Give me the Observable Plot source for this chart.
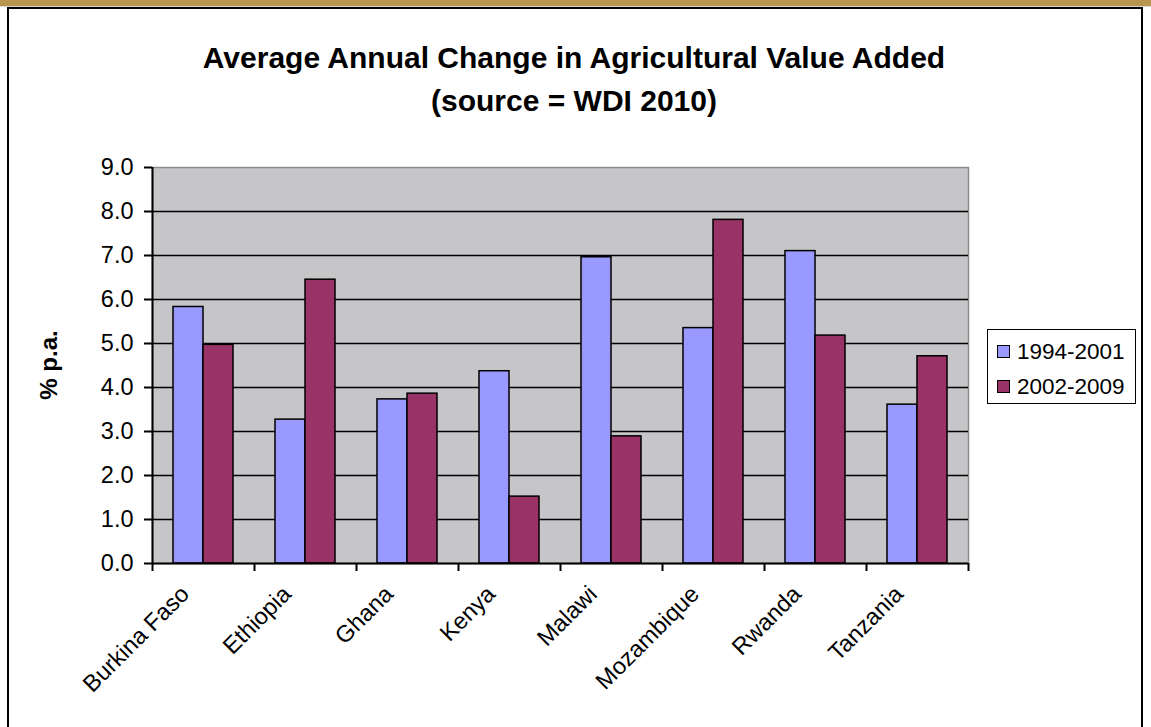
<!DOCTYPE html>
<html>
<head>
<meta charset="utf-8">
<script src="https://cdn.jsdelivr.net/npm/d3@7"></script>
<script src="https://cdn.jsdelivr.net/npm/@observablehq/plot@0.6"></script>
<style>
  html, body { margin: 0; padding: 0; background: #fff; }
  body { width: 1151px; height: 727px; position: relative; overflow: hidden; font-family: "Liberation Sans", Arial, sans-serif; }
  #goldbar { position: absolute; left: 0; top: 0; width: 1151px; height: 6px; background: #B9964F; }
  #goldline { position: absolute; left: 0; top: 6px; width: 1151px; height: 1px; background: #d8d8d8; }
  #frame { position: absolute; left: 7px; top: 7px; width: 1132px; height: 740px; border: 2px solid #000; box-sizing: content-box; }
  #title { position: absolute; left: 0; top: 36px; width: 1148px; text-align: center; font-weight: bold; font-size: 30px; line-height: 43px; color: #000; }
  #chart { position: absolute; left: 0; top: 0; }
  #ylabel { position: absolute; left: 49px; top: 365px; transform: translate(-50%, -50%) rotate(-90deg); font-weight: bold; font-size: 24px; white-space: nowrap; }
  #legend { position: absolute; left: 987px; top: 329px; width: 147px; height: 73px; border: 1.5px solid #000; background: #fff; }
  .item { position: absolute; left: 9px; font-size: 22.5px; line-height: 24px; white-space: nowrap; }
  .sw { display: inline-block; width: 11px; height: 11px; border: 1.5px solid #000; margin-right: 7px; vertical-align: 1px; }
</style>
</head>
<body>
<div id="goldbar"></div>
<div id="goldline"></div>
<div id="frame"></div>
<div id="title">Average Annual Change in Agricultural Value Added<br>(source = WDI 2010)</div>
<div id="chart"></div>
<div id="ylabel">% p.a.</div>
<div id="legend"></div>
<script>
// ---- data ----
const countries = ["Burkina Faso", "Ethiopia", "Ghana", "Kenya", "Malawi", "Mozambique", "Rwanda", "Tanzania"];
const seriesNames = ["1994-2001", "2002-2009"];
const values1994 = [5.83, 3.27, 3.73, 4.37, 6.96, 5.35, 7.10, 3.61];
const values2002 = [4.97, 6.45, 3.86, 1.52, 2.89, 7.81, 5.18, 4.71];
const yTicks = [0, 1, 2, 3, 4, 5, 6, 7, 8, 9];
const seriesColors = ["#9999FF", "#993366"];

// ---- layout ----
const W = 985, H = 727;
const mL = 152, mR = W - 968, mT = 167, mB = H - 563;
const bw = (W - mL - mR) / countries.length;

const rows1 = countries.map((c, i) => ({country: c, value: values1994[i]}));
const rows2 = countries.map((c, i) => ({country: c, value: values2002[i]}));

const font = '"Liberation Sans", Arial, sans-serif';

const chart = Plot.plot({
  width: W,
  height: H,
  marginLeft: mL,
  marginRight: mR,
  marginTop: mT,
  marginBottom: mB,
  style: {fontFamily: font, fontSize: "23px", color: "#000", background: "transparent"},
  x: {type: "band", domain: countries, padding: 0, axis: null},
  y: {domain: [0, 9], axis: null},
  marks: [
    Plot.frame({fill: "#C6C6C8", stroke: "#8c8c8c", strokeWidth: 1.5}),
    Plot.ruleY(yTicks.slice(1, -1), {stroke: "#000", strokeWidth: 1.5}),
    Plot.barY(rows1, {x: "country", y: "value", fill: seriesColors[0], stroke: "#000", strokeWidth: 1.5, insetLeft: 21, insetRight: 51}),
    Plot.barY(rows2, {x: "country", y: "value", fill: seriesColors[1], stroke: "#000", strokeWidth: 1.5, insetLeft: 51, insetRight: 21}),
    Plot.ruleY([0], {stroke: "#000", strokeWidth: 2}),
    Plot.ruleX([countries[0]], {dx: -bw / 2, stroke: "#000", strokeWidth: 2}),
    // category boundary ticks
    Plot.ruleX(countries, {x: d => d, y1: 0, y2: 0, insetBottom: -8, dx: -bw / 2, stroke: "#000", strokeWidth: 2}),
    Plot.ruleX([countries[countries.length - 1]], {y1: 0, y2: 0, insetBottom: -8, dx: bw / 2, stroke: "#000", strokeWidth: 2}),
    // y ticks
    Plot.axisY({ticks: yTicks, tickFormat: d3.format(".1f"), tickSize: 8, tickPadding: 11, stroke: "#000", strokeWidth: 2, fontSize: 23.5, label: null}),
    // x labels
    Plot.text(countries, {x: d => d, frameAnchor: "bottom", rotate: -45, textAnchor: "end", dx: -13, dy: 32, fontSize: 23.5, fill: "#000"})
  ]
});
document.getElementById("chart").appendChild(chart);

// legend
const legend = document.getElementById("legend");
seriesNames.forEach((name, i) => {
  const item = document.createElement("div");
  item.className = "item";
  item.style.top = (i === 0 ? 10 : 45) + "px";
  const sw = document.createElement("span");
  sw.className = "sw";
  sw.style.background = seriesColors[i];
  item.appendChild(sw);
  item.appendChild(document.createTextNode(name));
  legend.appendChild(item);
});
</script>
</body>
</html>
